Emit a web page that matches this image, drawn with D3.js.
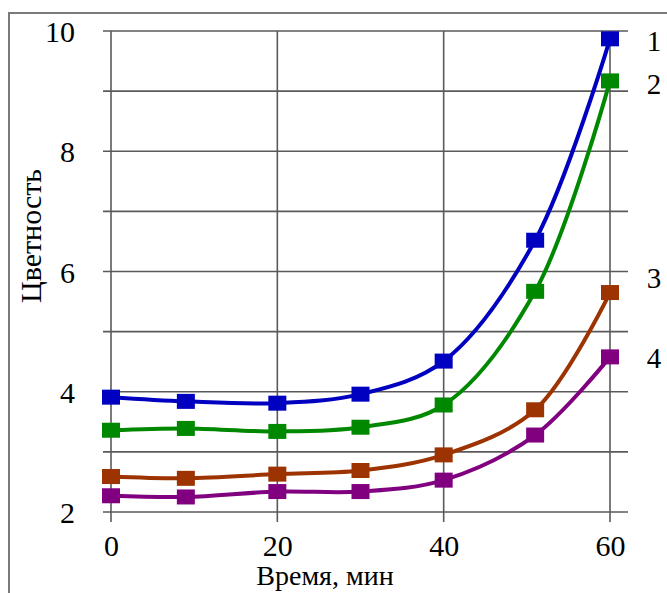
<!DOCTYPE html>
<html>
<head>
<meta charset="utf-8">
<script src="https://cdn.jsdelivr.net/npm/d3@7"></script>
<style>
html, body { margin: 0; padding: 0; background: #fff; }
svg { display: block; }
text { font-family: "Liberation Serif", "Times New Roman", "DejaVu Serif", serif; }
</style>
</head>
<body>
<svg id="chart" width="667" height="593"></svg>
<script>
// ---- data ----
const times = [0, 9, 20, 30, 40, 51, 60];
const series1 = [3.91, 3.84, 3.81, 3.96, 4.51, 6.52, 9.87];
const series2 = [3.36, 3.39, 3.34, 3.41, 3.78, 5.67, 9.17];
const series3 = [2.59, 2.56, 2.63, 2.69, 2.95, 3.70, 5.65];
const series4 = [2.27, 2.25, 2.34, 2.34, 2.53, 3.28, 4.58];
const seriesNames = ["1", "2", "3", "4"];
const labelValues = [9.84, 9.12, 5.89, 4.56];
const xTicks = [0, 20, 40, 60];
const yTicks = [2, 4, 6, 8, 10];
const yGrid = [2, 3, 4, 5, 6, 7, 8, 9, 10];
const xTitle = "Время, мин";
const yTitle = "Цветность";

const colors = ["#0000C0", "#008800", "#9C3300", "#800080"];
const allSeries = [series1, series2, series3, series4];

const svg = d3.select("#chart");

const x = d3.scaleLinear().domain([0, 60]).range([111, 610]);
const y = d3.scaleLinear().domain([2, 10]).range([512, 31]);

// outer frame
svg.append("rect")
  .attr("x", 9).attr("y", 13)
  .attr("width", 700).attr("height", 620)
  .attr("fill", "none").attr("stroke", "#7a7a7a").attr("stroke-width", 2);

// grid
const grid = svg.append("g").attr("stroke", "#5a5a5a").attr("stroke-width", 1.6);
grid.selectAll("line.h").data(yGrid).join("line")
  .attr("class", "h")
  .attr("x1", 103).attr("x2", 628)
  .attr("y1", d => y(d)).attr("y2", d => y(d));
grid.selectAll("line.v").data(xTicks).join("line")
  .attr("class", "v")
  .attr("x1", d => x(d)).attr("x2", d => x(d))
  .attr("y1", y(10)).attr("y2", 522);

// axes labels via d3 axes
const yAxis = svg.append("g")
  .attr("transform", "translate(75,0)")
  .call(d3.axisLeft(y).tickValues(yTicks).tickSize(0).tickPadding(0).tickFormat(d3.format("d")));
yAxis.select(".domain").remove();
yAxis.attr("font-family", null);
yAxis.selectAll("text")
  .attr("font-size", 30).attr("fill", "#000").attr("dy", "0.35em");

const xAxis = svg.append("g")
  .attr("transform", "translate(0,535)")
  .call(d3.axisBottom(x).tickValues(xTicks).tickSize(0).tickPadding(0).tickFormat(d3.format("d")));
xAxis.select(".domain").remove();
xAxis.attr("font-family", null);
xAxis.selectAll("text")
  .attr("font-size", 30).attr("fill", "#000").attr("dy", "0.71em");

// titles
svg.append("text")
  .attr("x", 325).attr("y", 585)
  .attr("text-anchor", "middle")
  .attr("font-size", 28).attr("fill", "#000")
  .text(xTitle);

svg.append("text")
  .attr("transform", "translate(41,236) rotate(-90)")
  .attr("text-anchor", "middle")
  .attr("font-size", 30).attr("fill", "#000")
  .text(yTitle);

// lines
const line = d3.line()
  .x((d, i) => x(times[i]))
  .y(d => y(d))
  .curve(d3.curveCatmullRom.alpha(0.5));

allSeries.forEach((s, k) => {
  svg.append("path")
    .datum(s)
    .attr("d", line)
    .attr("fill", "none")
    .attr("stroke", colors[k])
    .attr("stroke-width", 4);
});

// markers
const mw = 18, mh = 15;
allSeries.forEach((s, k) => {
  svg.append("g").selectAll("rect").data(s).join("rect")
    .attr("x", (d, i) => x(times[i]) - mw / 2)
    .attr("y", d => y(d) - mh / 2)
    .attr("width", mw).attr("height", mh)
    .attr("fill", colors[k]);
});

// series labels
svg.append("g").selectAll("text").data(seriesNames).join("text")
  .attr("x", 654)
  .attr("y", (d, i) => y(labelValues[i]))
  .attr("dy", "0.35em")
  .attr("text-anchor", "middle")
  .attr("font-size", 29).attr("fill", "#000")
  .text(d => d);
</script>
</body>
</html>
